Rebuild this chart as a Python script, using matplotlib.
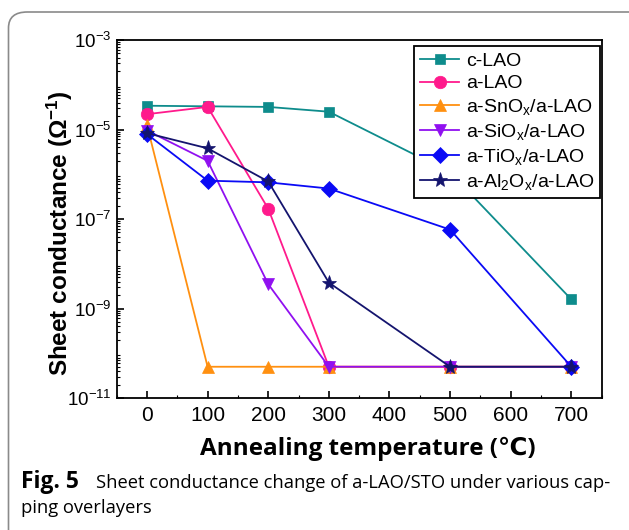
import matplotlib
matplotlib.use('Agg')
import matplotlib.pyplot as plt
from matplotlib.patches import FancyBboxPatch
from matplotlib.ticker import LogLocator, MultipleLocator, NullFormatter
import numpy as np

plt.rcParams['font.family'] = ['Liberation Sans', 'DejaVu Sans']
plt.rcParams['mathtext.fontset'] = 'custom'
plt.rcParams['mathtext.rm'] = 'Liberation Sans'
plt.rcParams['mathtext.it'] = 'Liberation Sans'
plt.rcParams['mathtext.bf'] = 'Liberation Sans:bold'
plt.rcParams['mathtext.default'] = 'regular'

# annealing temperatures (C) and sheet conductance (1/Ohm)
temps = [0, 100, 200, 300, 500, 700]
c_lao = [3.4e-5, 3.3e-5, 3.2e-5, 2.5e-5, 1.1e-6, 1.6e-9]
a_lao = [2.2e-5, 3.2e-5, 1.7e-7, 5e-11, 5e-11, 5e-11]
sno_lao = [1.25e-5, 5e-11, 5e-11, 5e-11, 5e-11, 5e-11]
sio_lao = [9.5e-6, 2e-6, 3.5e-9, 5e-11, 5e-11, 5e-11]
tio_lao = [7.9e-6, 7.2e-7, 6.6e-7, 4.8e-7, 5.8e-8, 5e-11]
alo_lao = [8.3e-6, 3.8e-6, 6.9e-7, 3.8e-9, 5e-11, 5e-11]

labels = ['c-LAO', 'a-LAO', 'a-SnO$_x$/a-LAO', 'a-SiO$_x$/a-LAO',
          'a-TiO$_x$/a-LAO', 'a-Al$_2$O$_x$/a-LAO']
series = [c_lao, a_lao, sno_lao, sio_lao, tio_lao, alo_lao]
colors = ['#0E8C8C', '#FF1A8C', '#FF9010', '#9010F0', '#0A0AF5', '#14146E']
markers = ['s', 'o', '^', 'v', 'D', '*']
msizes = [7.5, 9, 9, 9, 8, 11]

fig = plt.figure(figsize=(6.29, 5.30), dpi=100)
ax = fig.add_axes([0.1855, 0.249, 0.771, 0.6755])

for y, lab, c, m, ms in zip(series, labels, colors, markers, msizes):
    ax.plot(temps, y, color=c, marker=m, markersize=ms, linewidth=1.3,
            label=lab, markeredgewidth=0.5)

ax.set_yscale('log')
ax.set_ylim(1e-11, 1e-3)
ax.set_xlim(-50, 750)
ax.xaxis.set_major_locator(MultipleLocator(100))
ax.xaxis.set_minor_locator(MultipleLocator(50))
ax.yaxis.set_major_locator(LogLocator(base=10, numticks=20))
ax.yaxis.set_minor_locator(LogLocator(base=10, subs=np.arange(2, 10), numticks=20))
ax.yaxis.set_minor_formatter(NullFormatter())
ax.set_yticks([1e-11, 1e-9, 1e-7, 1e-5, 1e-3])
ax.set_yticklabels(['10$^{-11}$', '10$^{-9}$', '10$^{-7}$', '10$^{-5}$', '10$^{-3}$'])
ax.tick_params(axis='both', which='major', direction='in', length=5, width=1.2,
               labelsize=13.5, top=False, right=False)
ax.tick_params(axis='both', which='minor', direction='in', length=2.5, width=0.8,
               top=False, right=False)
ax.tick_params(axis='x', labelsize=15, pad=6)
for s in ax.spines.values():
    s.set_linewidth(1.3)

ax.set_ylabel('Sheet conductance ($\\mathbf{\\Omega^{-1}}$)', fontsize=17.5,
              fontweight='bold')
ax.yaxis.set_label_coords(-0.085, 0.46)
ax.set_xlabel('Annealing temperature (℃)', fontsize=17.5, fontweight='bold',
              family=['Open Sans', 'DejaVu Sans'])
ax.xaxis.set_label_coords(0.517, -0.108)

leg = ax.legend(loc='upper right', bbox_to_anchor=(0.997, 0.982),
                borderaxespad=0, fontsize=14, frameon=True, fancybox=False,
                edgecolor='black', framealpha=1,
                handlelength=2.0, handletextpad=0.35, labelspacing=0.25,
                borderpad=0.3)
leg.get_frame().set_linewidth(1.3)

# rounded frame around the figure panel
frame = FancyBboxPatch((8.5 / 629, -0.2), 1.2, 1.2 - 12 / 530,
                       boxstyle='round,pad=0,rounding_size=0.03',
                       transform=fig.transFigure, fill=False,
                       edgecolor='#8a8a8a', linewidth=1.2, clip_on=False)
fig.patches.append(frame)

cap_font = ['Open Sans', 'DejaVu Sans']
fig.text(21 / 629, 1 - 488 / 530, 'Fig. 5', fontsize=16.5, fontweight='bold',
         family=cap_font, va='baseline')
fig.text(96 / 629, 1 - 488 / 530,
         'Sheet conductance change of a-LAO/STO under various cap-',
         fontsize=13.2, family=cap_font, va='baseline')
fig.text(21 / 629, 1 - 513 / 530, 'ping overlayers', fontsize=13.2,
         family=cap_font, va='baseline')

fig.savefig('out.png', dpi=100)
